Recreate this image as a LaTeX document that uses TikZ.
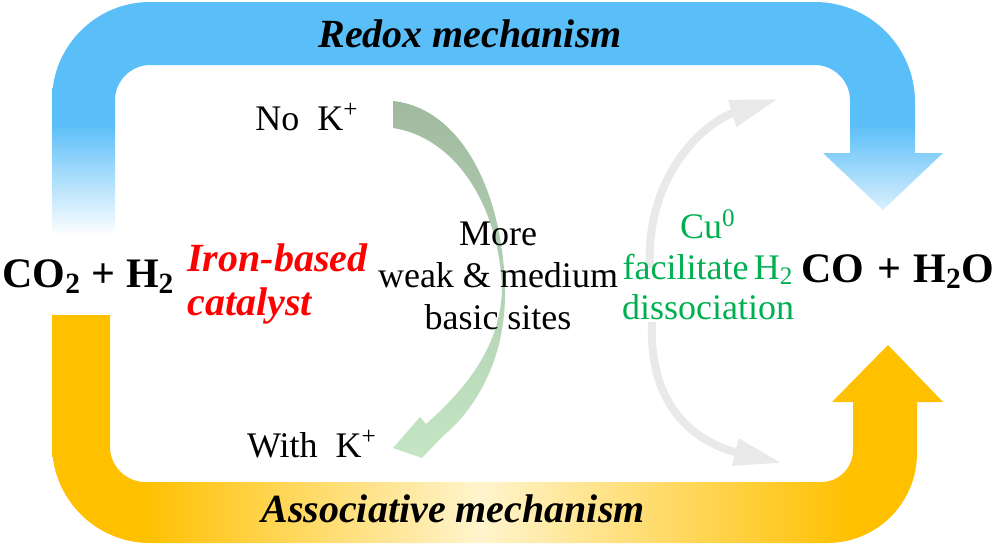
\documentclass[tikz,border=0pt]{standalone}
\usepackage{fontspec}
\setmainfont{Liberation Serif}
\usetikzlibrary{arrows.meta}

\definecolor{bandblue}{RGB}{90,190,248}
\definecolor{bandyellow}{RGB}{255,192,0}
\definecolor{paleyellow}{RGB}{255,244,205}
\definecolor{greentop}{RGB}{160,186,160}
\definecolor{greenbot}{RGB}{196,230,196}
\definecolor{softgray}{RGB}{233,233,233}
\definecolor{catred}{RGB}{255,0,0}
\definecolor{cugreen}{RGB}{0,176,80}

\pgfdeclareverticalshading{bluefade}{100bp}{color(0bp)=(white); color(27bp)=(white); color(50bp)=(bandblue); color(100bp)=(bandblue)}
\pgfdeclarehorizontalshading{yellowfade}{100bp}{color(0bp)=(bandyellow); color(30bp)=(bandyellow); color(49bp)=(paleyellow); color(70bp)=(bandyellow); color(100bp)=(bandyellow)}

\begin{document}
\begin{tikzpicture}[x=0.5pt,y=-0.5pt,
  mech/.style={font=\fontsize{20}{22}\selectfont\bfseries\itshape,inner sep=0pt},
  chem/.style={font=\fontsize{21}{23}\selectfont\bfseries,inner sep=0pt},
  note/.style={font=\fontsize{18}{21}\selectfont,align=center,inner sep=0pt},
  grayarrow/.style={draw=softgray,line width=4pt,-{Triangle[length=24pt,width=13pt]}}]
  \useasboundingbox (0,0) rectangle (996,543);

  % redox band (top, blue)
  \shade[shading=bluefade] (52,245) -- (52,100) .. controls (52,46) and (96,2) .. (150,2)
    -- (815,2) .. controls (870,2) and (915,47) .. (915,102) -- (915,153) -- (943,153)
    -- (883,210) -- (823,153) -- (850,153) -- (850,100) .. controls (850,81) and (834,65) .. (815,65)
    -- (150,65) .. controls (131,65) and (115,81) .. (115,100) -- (115,245) -- cycle;

  % associative band (bottom, yellow)
  \shade[shading=yellowfade] (52,315) -- (52,445) .. controls (52,499) and (96,543) .. (150,543)
    -- (827,543) .. controls (877,543) and (917,503) .. (917,453) -- (917,402) -- (943,402)
    -- (888,345) -- (832,402) -- (853,402) -- (853,450) .. controls (853,468) and (839,482) .. (821,482)
    -- (145,482) .. controls (126,482) and (110,466) .. (110,447) -- (110,315) -- cycle;

  % potassium arrow
  \shade[top color=greentop,bottom color=greenbot] (393,101) .. controls (460,108) and (503,190) .. (505,290)
    .. controls (506,360) and (475,410) .. (442,437) -- (422,458) -- (393,448) -- (420,417) -- (426,424)
    .. controls (462,392) and (500,350) .. (502,290) .. controls (500,210) and (458,138) .. (393,128) -- cycle;

  % copper arrows
  \draw[grayarrow] (650,268) .. controls (645,175) and (705,122) .. (778,99);
  \draw[grayarrow] (652,322) .. controls (648,415) and (705,445) .. (782,463);

  \node (redox) [mech,anchor=base] at (470,47) {Redox mechanism};
  \node (assoc) [mech,anchor=base] at (453,522) {Associative mechanism};
  \node (reac) [chem,anchor=base west] at (2,287) {CO\textsubscript{2} + H\textsubscript{2}};
  \node (prod) [chem,anchor=base east] at (995,282) {CO\hspace{0.3em}+\hspace{0.3em}H\textsubscript{2}O};
  \node (cat) [mech,text=catred,align=left,anchor=west] at (187,284) {Iron-based\\catalyst};
  \node (nok) [note,anchor=base] at (307,130) {No~~K\textsuperscript{+}};
  \node (withk) [note,anchor=base] at (312,457) {With~~K\textsuperscript{+}};
  \node (basic) [note] at (498,276) {More\\weak \& medium\\basic sites};
  \node (cu) [note,text=cugreen,font=\fontsize{18}{20.25}\selectfont] at (708,265) {Cu\textsuperscript{0}\\facilitate\hspace{0.15em}H\textsubscript{2}\\dissociation};
\end{tikzpicture}
\end{document}
